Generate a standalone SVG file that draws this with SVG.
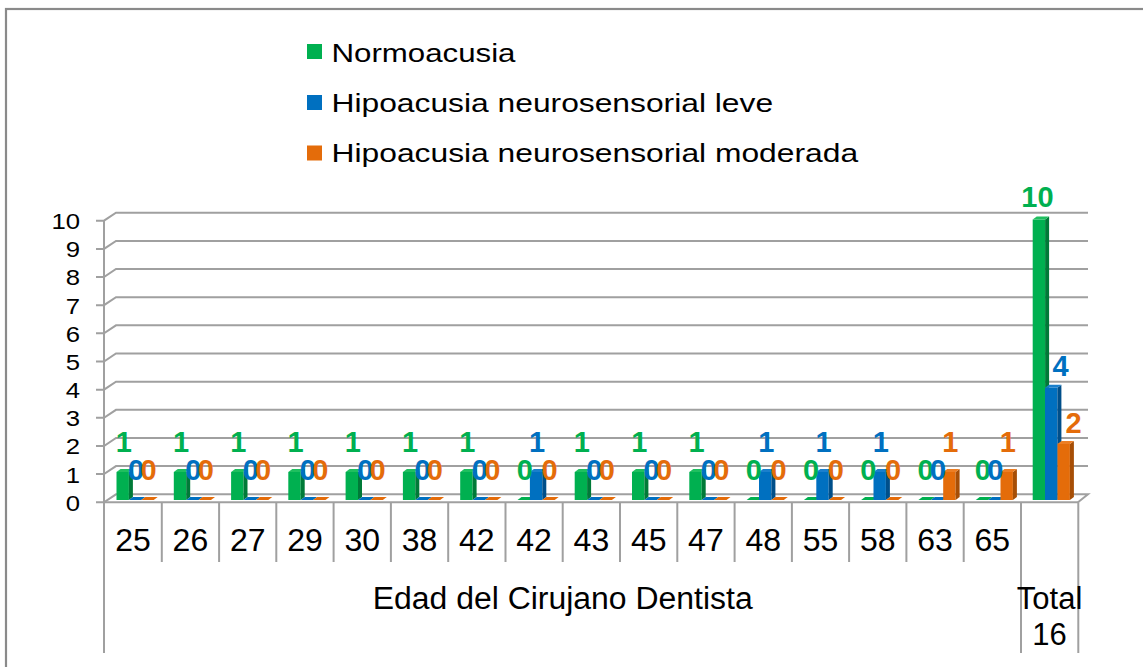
<svg xmlns="http://www.w3.org/2000/svg" width="1143" height="667" viewBox="0 0 1143 667">
<style>
.t{font-family:"Liberation Sans",Arial,sans-serif;fill:#000}
.grid{fill:none;stroke:#A0A0A0;stroke-width:2}
.gf{fill:#00B050}.gs{fill:#007A38}.gt{fill:#1FBF5F}
.bf{fill:#0070C0}.bs{fill:#004F8A}.bt{fill:#1A7FCC}
.of{fill:#E46C0A}.os{fill:#A64E06}.ot{fill:#EC7E24}
.lbl{font-family:"Liberation Sans",Arial,sans-serif;font-weight:bold;font-size:29px;text-anchor:middle}
.lg{fill:#00B050}.lb{fill:#0070C0}.lo{fill:#E46C0A}
</style>
<rect x="0" y="0" width="1143" height="667" fill="#fff"/>
<rect id="frame" x="6" y="9" width="1200" height="720" fill="none" stroke="#8A8A8A" stroke-width="2.2"/>

<g id="legend">
<rect x="307" y="44" width="15" height="15" fill="#00B050"/>
<rect x="307" y="95" width="15" height="15" fill="#0070C0"/>
<rect x="307" y="145.5" width="15" height="15" fill="#E46C0A"/>
<text class="t" x="331.5" y="61.5" font-size="26.5" textLength="184" lengthAdjust="spacingAndGlyphs">Normoacusia</text>
<text class="t" x="331.5" y="111.8" font-size="26.5" textLength="441.6" lengthAdjust="spacingAndGlyphs">Hipoacusia neurosensorial leve</text>
<text class="t" x="331.5" y="162" font-size="26.5" textLength="526.6" lengthAdjust="spacingAndGlyphs">Hipoacusia neurosensorial moderada</text>
</g>

<g id="gridlines" class="grid">
<path d="M96 502.3H104L116 494.3H1088L1078 502.3"/>
<path d="M96 474.1H104L116 466.1H1088"/>
<path d="M96 446H104L116 438H1088"/>
<path d="M96 417.8H104L116 409.8H1088"/>
<path d="M96 389.7H104L116 381.7H1088"/>
<path d="M96 361.5H104L116 353.5H1088"/>
<path d="M96 333.3H104L116 325.3H1088"/>
<path d="M96 305.2H104L116 297.2H1088"/>
<path d="M96 277H104L116 269H1088"/>
<path d="M96 248.9H104L116 240.9H1088"/>
<path d="M96 220.7H104L116 212.7H1088"/>
</g>

<g id="axes" class="grid">
<path d="M104 220.7V653"/>
<path d="M104 502.3H1078.3"/>
<path d="M1021 502.3V653M1078.3 502.3V653"/>
<path d="M161.8 502.3V562M219.1 502.3V562M276.3 502.3V562M333.6 502.3V562M390.9 502.3V562M448.2 502.3V562M505.5 502.3V562M562.7 502.3V562M620 502.3V562M677.3 502.3V562M734.6 502.3V562M791.9 502.3V562M849.1 502.3V562M906.4 502.3V562M963.7 502.3V562"/>
</g>

<g id="yaxis-labels" transform="scale(1.17 1)" class="t" font-size="22" text-anchor="end">
<text x="68.4" y="510.8">0</text>
<text x="68.4" y="482.6">1</text>
<text x="68.4" y="454.5">2</text>
<text x="68.4" y="426.3">3</text>
<text x="68.4" y="398.2">4</text>
<text x="68.4" y="370">5</text>
<text x="68.4" y="341.8">6</text>
<text x="68.4" y="313.7">7</text>
<text x="68.4" y="285.5">8</text>
<text x="68.4" y="257.4">9</text>
<text x="68.4" y="229.2">10</text>
</g>

<defs>
<g id="g1"><rect class="gf" x="0" y="-28" width="12.4" height="28"/><polygon class="gs" points="12.4,-28 16.4,-31 16.4,-3 12.4,0"/><polygon class="gt" points="0,-28 12.4,-28 16.4,-31 4,-31"/></g>
<g id="b1"><rect class="bf" x="0" y="-28" width="12.4" height="28"/><polygon class="bs" points="12.4,-28 16.4,-31 16.4,-3 12.4,0"/><polygon class="bt" points="0,-28 12.4,-28 16.4,-31 4,-31"/></g>
<g id="o1"><rect class="of" x="0" y="-28" width="12.4" height="28"/><polygon class="os" points="12.4,-28 16.4,-31 16.4,-3 12.4,0"/><polygon class="ot" points="0,-28 12.4,-28 16.4,-31 4,-31"/></g>
<polygon id="g0" class="gf" points="0,0 12.4,0 16.4,-3 4,-3"/>
<polygon id="b0" class="bf" points="0,0 12.4,0 16.4,-3 4,-3"/>
<polygon id="o0" class="of" points="0,0 12.4,0 16.4,-3 4,-3"/>
</defs>

<g id="bars">
<use href="#g1" x="116.5" y="500"/><use href="#b0" x="128.9" y="500"/><use href="#o0" x="141.3" y="500"/>
<use href="#g1" x="173.8" y="500"/><use href="#b0" x="186.2" y="500"/><use href="#o0" x="198.6" y="500"/>
<use href="#g1" x="231.1" y="500"/><use href="#b0" x="243.5" y="500"/><use href="#o0" x="255.9" y="500"/>
<use href="#g1" x="288.3" y="500"/><use href="#b0" x="300.7" y="500"/><use href="#o0" x="313.1" y="500"/>
<use href="#g1" x="345.6" y="500"/><use href="#b0" x="358" y="500"/><use href="#o0" x="370.4" y="500"/>
<use href="#g1" x="402.9" y="500"/><use href="#b0" x="415.3" y="500"/><use href="#o0" x="427.7" y="500"/>
<use href="#g1" x="460.2" y="500"/><use href="#b0" x="472.6" y="500"/><use href="#o0" x="485" y="500"/>
<use href="#g0" x="517.5" y="500"/><use href="#b1" x="529.9" y="500"/><use href="#o0" x="542.3" y="500"/>
<use href="#g1" x="574.7" y="500"/><use href="#b0" x="587.1" y="500"/><use href="#o0" x="599.5" y="500"/>
<use href="#g1" x="632" y="500"/><use href="#b0" x="644.4" y="500"/><use href="#o0" x="656.8" y="500"/>
<use href="#g1" x="689.3" y="500"/><use href="#b0" x="701.7" y="500"/><use href="#o0" x="714.1" y="500"/>
<use href="#g0" x="746.6" y="500"/><use href="#b1" x="759" y="500"/><use href="#o0" x="771.4" y="500"/>
<use href="#g0" x="803.9" y="500"/><use href="#b1" x="816.3" y="500"/><use href="#o0" x="828.7" y="500"/>
<use href="#g0" x="861.1" y="500"/><use href="#b1" x="873.5" y="500"/><use href="#o0" x="885.9" y="500"/>
<use href="#g0" x="918.4" y="500"/><use href="#b0" x="930.8" y="500"/><use href="#o1" x="943.2" y="500"/>
<use href="#g0" x="975.7" y="500"/><use href="#b0" x="988.1" y="500"/><use href="#o1" x="1000.5" y="500"/>
<g id="total-bars">
<rect class="gf" x="1032.7" y="219.5" width="12.4" height="280.5"/><polygon class="gs" points="1045.1,219.5 1049.1,216.5 1049.1,497 1045.1,500"/><polygon class="gt" points="1032.7,219.5 1045.1,219.5 1049.1,216.5 1036.7,216.5"/>
<rect class="bf" x="1045" y="387.8" width="12.4" height="112.2"/><polygon class="bs" points="1057.4,387.8 1061.4,384.8 1061.4,497 1057.4,500"/><polygon class="bt" points="1045,387.8 1057.4,387.8 1061.4,384.8 1049,384.8"/>
<rect class="of" x="1057.5" y="443.9" width="12.4" height="56.1"/><polygon class="os" points="1069.9,443.9 1073.9,440.9 1073.9,497 1069.9,500"/><polygon class="ot" points="1057.5,443.9 1069.9,443.9 1073.9,440.9 1061.5,440.9"/>
</g>
</g>

<g id="data-labels" class="lbl">
<text class="lg" x="123.7" y="452">1</text><text class="lb" x="136.1" y="480">0</text><text class="lo" x="148.5" y="480">0</text>
<text class="lg" x="181" y="452">1</text><text class="lb" x="193.4" y="480">0</text><text class="lo" x="205.8" y="480">0</text>
<text class="lg" x="238.3" y="452">1</text><text class="lb" x="250.7" y="480">0</text><text class="lo" x="263.1" y="480">0</text>
<text class="lg" x="295.5" y="452">1</text><text class="lb" x="307.9" y="480">0</text><text class="lo" x="320.3" y="480">0</text>
<text class="lg" x="352.8" y="452">1</text><text class="lb" x="365.2" y="480">0</text><text class="lo" x="377.6" y="480">0</text>
<text class="lg" x="410.1" y="452">1</text><text class="lb" x="422.5" y="480">0</text><text class="lo" x="434.9" y="480">0</text>
<text class="lg" x="467.4" y="452">1</text><text class="lb" x="479.8" y="480">0</text><text class="lo" x="492.2" y="480">0</text>
<text class="lg" x="524.7" y="480">0</text><text class="lb" x="537.1" y="452">1</text><text class="lo" x="549.5" y="480">0</text>
<text class="lg" x="581.9" y="452">1</text><text class="lb" x="594.3" y="480">0</text><text class="lo" x="606.7" y="480">0</text>
<text class="lg" x="639.2" y="452">1</text><text class="lb" x="651.6" y="480">0</text><text class="lo" x="664" y="480">0</text>
<text class="lg" x="696.5" y="452">1</text><text class="lb" x="708.9" y="480">0</text><text class="lo" x="721.3" y="480">0</text>
<text class="lg" x="753.8" y="480">0</text><text class="lb" x="766.2" y="452">1</text><text class="lo" x="778.6" y="480">0</text>
<text class="lg" x="811.1" y="480">0</text><text class="lb" x="823.5" y="452">1</text><text class="lo" x="835.9" y="480">0</text>
<text class="lg" x="868.3" y="480">0</text><text class="lb" x="880.7" y="452">1</text><text class="lo" x="893.1" y="480">0</text>
<text class="lg" x="925.6" y="480">0</text><text class="lb" x="938" y="480">0</text><text class="lo" x="950.4" y="452">1</text>
<text class="lg" x="982.9" y="480">0</text><text class="lb" x="995.3" y="480">0</text><text class="lo" x="1007.7" y="452">1</text>
<text class="lg" x="1037.5" y="207">10</text><text class="lb" x="1060.5" y="376">4</text><text class="lo" x="1073.5" y="433">2</text>
</g>

<g id="category-labels" class="t" font-size="32" text-anchor="middle">
<text x="133.1" y="551">25</text>
<text x="190.4" y="551">26</text>
<text x="247.7" y="551">27</text>
<text x="305" y="551">29</text>
<text x="362.3" y="551">30</text>
<text x="419.5" y="551">38</text>
<text x="476.8" y="551">42</text>
<text x="534.1" y="551">42</text>
<text x="591.4" y="551">43</text>
<text x="648.7" y="551">45</text>
<text x="705.9" y="551">47</text>
<text x="763.2" y="551">48</text>
<text x="820.5" y="551">55</text>
<text x="877.8" y="551">58</text>
<text x="935" y="551">63</text>
<text x="992.3" y="551">65</text>
</g>

<g id="axis-title" class="t" font-size="31" text-anchor="middle">
<text x="562.7" y="609" textLength="380" lengthAdjust="spacingAndGlyphs">Edad del Cirujano Dentista</text>
<text x="1049.6" y="609">Total</text>
<text x="1049.6" y="645">16</text>
</g>
</svg>
